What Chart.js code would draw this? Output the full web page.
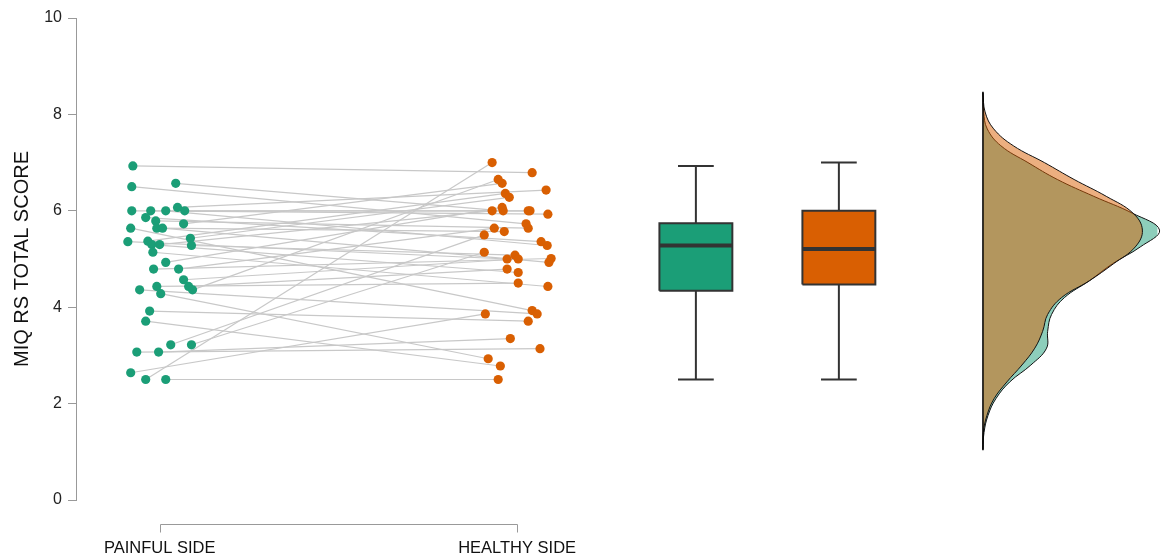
<!DOCTYPE html>
<html>
<head>
<meta charset="utf-8">
<script src="https://cdn.jsdelivr.net/npm/chart.js@4.4.1/dist/chart.umd.min.js"></script>
<style>
  html, body { margin: 0; padding: 0; background: #fff; }
  canvas { display: block; }
</style>
</head>
<body>
<canvas id="c" width="1162" height="559"></canvas>
<script>
// categories and tick labels
const categories = ["PAINFUL SIDE", "HEALTHY SIDE"];
const yTicks = [0, 2, 4, 6, 8, 10];

// paired scores (same index = same subject), jitter in category units
const painfulScore  = [6.93, 6.57, 6.50, 6.00, 6.00, 6.00, 6.07, 6.00, 5.86, 5.79, 5.64, 5.64, 5.64, 5.73, 5.36, 5.37, 5.30, 5.30, 5.14, 5.43,
                       5.28, 4.93, 4.79, 4.79, 4.57, 4.36, 4.43, 4.28, 4.43, 4.36, 3.92, 3.71, 3.22, 3.22, 3.07, 3.07, 2.64, 2.50, 2.50];
const painfulJitter = [-0.075, 0.045, -0.078, -0.078, -0.025, 0.017, 0.050, 0.070, -0.039, -0.011, -0.081, -0.008, 0.008, 0.067, -0.089, -0.033, -0.022, 0.000, -0.019, 0.086,
                       0.089, 0.017, -0.017, 0.053, 0.067, -0.056, -0.008, 0.003, 0.081, 0.092, -0.028, -0.039, 0.031, 0.089, -0.064, -0.003, -0.081, -0.039, 0.017];
const healthyScore  = [6.79, 6.00, 5.73, 6.00, 5.93, 5.28, 6.43, 6.00, 5.36, 5.64, 3.93, 5.57, 4.93, 6.57, 5.00, 6.36, 4.72, 6.00, 4.43, 6.28,
                       5.08, 6.07, 5.01, 5.64, 5.00, 3.86, 4.50, 2.93, 4.79, 6.65, 3.71, 2.78, 5.50, 5.14, 3.14, 3.35, 3.86, 7.00, 2.50];
const healthyJitter = [0.042, -0.039, 0.025, 0.031, 0.086, 0.084, 0.081, 0.036, 0.067, 0.031, 0.042, -0.036, 0.089, -0.042, -0.028, -0.033, 0.003, -0.070, 0.086, -0.022,
                       -0.006, -0.042, 0.095, -0.064, 0.003, 0.056, 0.003, -0.081, -0.028, -0.053, 0.031, -0.047, -0.092, -0.092, 0.064, -0.019, -0.089, -0.070, -0.053];

// box plot summaries (painful, healthy)
const boxMin = [2.50, 2.50];
const boxQ1  = [4.34, 4.47];
const boxMed = [5.28, 5.21];
const boxQ3  = [5.74, 6.00];
const boxMax = [6.93, 7.00];

// density curves
const densityGrid    = [1.05, 1.40, 1.75, 2.10, 2.45, 2.80, 3.15, 3.50, 3.85, 4.20, 4.55, 4.90, 5.25, 5.60, 5.95, 6.30, 6.65, 7.00, 7.35, 7.70, 8.05, 8.45];
const densityPainful = [0, 0.003, 0.014, 0.036, 0.075, 0.134, 0.178, 0.181, 0.192, 0.228, 0.298, 0.362, 0.440, 0.494, 0.418, 0.310, 0.208, 0.126, 0.050, 0.012, 0.002, 0];
const densityHealthy = [0, 0.001, 0.011, 0.031, 0.067, 0.109, 0.145, 0.167, 0.181, 0.220, 0.298, 0.365, 0.426, 0.446, 0.420, 0.345, 0.255, 0.172, 0.085, 0.030, 0.006, 0];

const GREEN = "#1b9e77", ORANGE = "#d95f02";
const FONT = "'Liberation Sans', Arial, sans-serif";
const catPos = [1, 2];
const boxPos = [2.5, 2.9];
const boxHalf = 0.102, capHalf = 0.05, densBase = 3.303;

const datasets = [];

// lines joining each subject's two sides
painfulScore.forEach((v, i) => {
  datasets.push({
    data: [{ x: catPos[0] + painfulJitter[i], y: v }, { x: catPos[1] + healthyJitter[i], y: healthyScore[i] }],
    showLine: true, borderColor: "#c8c8c8", borderWidth: 1.2, pointRadius: 0, order: 50
  });
});

datasets.push({
  data: painfulScore.map((v, i) => ({ x: catPos[0] + painfulJitter[i], y: v })),
  backgroundColor: GREEN, borderWidth: 0, pointRadius: 4.6, order: 40
});
datasets.push({
  data: healthyScore.map((v, i) => ({ x: catPos[1] + healthyJitter[i], y: v })),
  backgroundColor: ORANGE, borderWidth: 0, pointRadius: 4.6, order: 40
});

[GREEN, ORANGE].forEach((col, i) => {
  const p = boxPos[i];
  datasets.push({
    data: [{ x: p - capHalf, y: boxMax[i] }, { x: p + capHalf, y: boxMax[i] }, { x: p, y: boxMax[i] },
           { x: p, y: boxMin[i] }, { x: p - capHalf, y: boxMin[i] }, { x: p + capHalf, y: boxMin[i] }],
    showLine: true, borderColor: "#333", borderWidth: 2, pointRadius: 0, order: 30
  });
  datasets.push({
    data: [{ x: p - boxHalf, y: boxQ1[i] }, { x: p + boxHalf, y: boxQ1[i] }, { x: p + boxHalf, y: boxQ3[i] },
           { x: p - boxHalf, y: boxQ3[i] }, { x: p - boxHalf, y: boxQ1[i] }],
    showLine: true, fill: "shape", backgroundColor: col, borderColor: "#333", borderWidth: 2,
    borderJoinStyle: "miter", pointRadius: 0, order: 20
  });
  datasets.push({
    data: [{ x: p - boxHalf, y: boxMed[i] }, { x: p + boxHalf, y: boxMed[i] }],
    showLine: true, borderColor: "#333", borderWidth: 4, pointRadius: 0, order: 10
  });
});

datasets.push({
  data: densityGrid.map((v, i) => ({ x: densBase + densityPainful[i], y: v })),
  showLine: true, fill: "shape", tension: 0.4, backgroundColor: "rgba(27,158,119,0.5)",
  borderColor: "#111", borderWidth: 1, pointRadius: 0, clip: false, order: 6
});
datasets.push({
  data: densityGrid.map((v, i) => ({ x: densBase + densityHealthy[i], y: v })),
  showLine: true, fill: "shape", tension: 0.4, backgroundColor: "rgba(217,95,2,0.5)",
  borderColor: "#111", borderWidth: 1, pointRadius: 0, clip: false, order: 5
});
datasets.push({
  data: [{ x: densBase, y: densityGrid[0] - 0.02 }, { x: densBase, y: densityGrid[densityGrid.length - 1] + 0.02 }],
  showLine: true, borderColor: "#000", borderWidth: 1.5, pointRadius: 0, clip: false, order: 4
});

// R-style bracket under the two categories
const bracket = {
  id: "bracket",
  afterDraw(chart) {
    const sx = chart.scales.x, ctx = chart.ctx;
    const a = Math.round(sx.getPixelForValue(catPos[0])) + 0.5;
    const b = Math.round(sx.getPixelForValue(catPos[1])) + 0.5;
    const y = Math.round(chart.chartArea.bottom + 24) + 0.5;
    ctx.save();
    ctx.strokeStyle = "#999";
    ctx.lineWidth = 1;
    ctx.beginPath();
    ctx.moveTo(a, y + 8); ctx.lineTo(a, y); ctx.lineTo(b, y); ctx.lineTo(b, y + 8);
    ctx.stroke();
    ctx.restore();
  }
};

new Chart(document.getElementById("c"), {
  type: "scatter",
  data: { datasets },
  plugins: [bracket],
  options: {
    responsive: false,
    animation: false,
    devicePixelRatio: 1,
    layout: { padding: { top: 18, right: 0, left: 0, bottom: 0 } },
    plugins: { legend: { display: false }, tooltip: { enabled: false } },
    scales: {
      x: {
        type: "linear", min: 0.766, max: 3.791,
        grid: { display: false }, border: { display: false },
        afterBuildTicks: (s) => { s.ticks = catPos.map(v => ({ value: v })); },
        afterFit: (s) => { s.height = 59; },
        ticks: {
          padding: 31, color: "#111", font: { family: FONT, size: 16.5 },
          callback: (v) => categories[catPos.indexOf(v)] || ""
        }
      },
      y: {
        min: 0, max: 10,
        afterBuildTicks: (s) => { s.ticks = yTicks.map(v => ({ value: v })); },
        afterFit: (s) => { s.width = 76; },
        grid: { drawOnChartArea: false, drawTicks: true, tickLength: 8, color: "#999" },
        border: { display: true, color: "#999", width: 1 },
        ticks: { padding: 6, color: "#222", font: { family: FONT, size: 16 } },
        title: {
          display: true, text: "MIQ RS TOTAL SCORE", color: "#111",
          font: { family: FONT, size: 20 }, padding: { top: 10, bottom: 0 }
        }
      }
    }
  }
});
</script>
</body>
</html>
